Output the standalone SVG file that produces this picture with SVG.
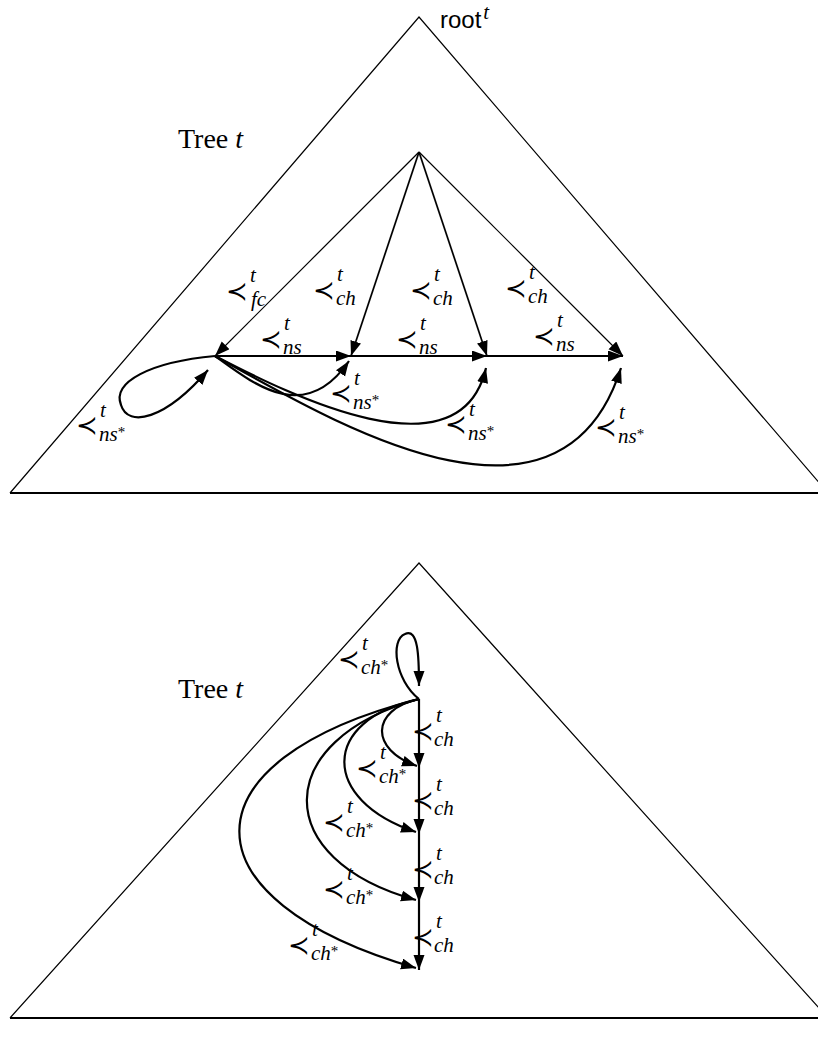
<svg xmlns="http://www.w3.org/2000/svg" width="818" height="1041" viewBox="0 0 818 1041">
<style>
.bg{fill:#fff}
.tri{fill:none;stroke:#000;stroke-width:1.2;stroke-linejoin:miter}
.base{fill:none;stroke:#000;stroke-width:2.2}
.thin{fill:none;stroke:#000;stroke-width:1.2}
.med{fill:none;stroke:#000;stroke-width:1.7}
.thk{fill:none;stroke:#000;stroke-width:2.2}
.op{font-family:"DejaVu Sans",sans-serif;font-style:normal;font-size:26px}
.sc{font-family:"Liberation Serif",serif;font-style:italic;font-size:21px;fill:#000}
.st{font-style:normal;font-size:15px}
.rm{font-family:"Liberation Serif",serif;font-size:28px;fill:#000}
.ss{font-family:"Liberation Sans",sans-serif;font-size:24px;fill:#000}
</style>
<defs>
<marker id="ah" markerUnits="userSpaceOnUse" markerWidth="16" markerHeight="12" refX="15" refY="5.5" orient="auto">
<path d="M0,0 L15,5.5 L0,11 z" fill="#000"/>
</marker>
</defs>
<rect class="bg" x="0" y="0" width="818" height="1041"/>

<g id="tree-top">
<path class="tri" d="M10,493 L419,17 L828,493"/>
<path class="base" d="M10,493 L828,493"/>
<text class="ss" x="440" y="28">root<tspan class="sc" font-size="16" dy="-9" dx="2">t</tspan></text>
<text class="rm" x="178" y="148">Tree <tspan font-style="italic">t</tspan></text>
</g>

<g id="tree-bottom">
<path class="tri" d="M10,1018 L419,563 L828,1018"/>
<path class="base" d="M10,1018 L828,1018"/>
<text class="rm" x="178" y="698">Tree <tspan font-style="italic">t</tspan></text>
</g>

<g id="connectors">
<path class="thin" d="M419,152 L215,356" marker-end="url(#ah)"/>
<path class="med" d="M419,152 L351,356" marker-end="url(#ah)"/>
<path class="med" d="M419,152 L487,356" marker-end="url(#ah)"/>
<path class="thin" d="M419,152 L623,356" marker-end="url(#ah)"/>
<path class="thk" d="M215,356 L351,356" marker-end="url(#ah)"/>
<path class="thk" d="M351,356 L487,356" marker-end="url(#ah)"/>
<path class="thk" d="M487,356 L623,356" marker-end="url(#ah)"/>
<path class="thk" d="M215,356 C255,385 305,425 349,361" marker-end="url(#ah)"/>
<path class="thk" d="M215,356 C290,395 460,480 486,368" marker-end="url(#ah)"/>
<path class="thk" d="M215,356 C330,420 560,560 621,368" marker-end="url(#ah)"/>
<path class="thk" d="M215,356 C150,362 112,382 121,405 C128,428 165,420 208,370" marker-end="url(#ah)"/>
<path class="thk" d="M419,699 L419,768" marker-end="url(#ah)"/>
<path class="thk" d="M419,768 L419,834" marker-end="url(#ah)"/>
<path class="thk" d="M419,834 L419,902" marker-end="url(#ah)"/>
<path class="thk" d="M419,902 L419,970" marker-end="url(#ah)"/>
<path class="thk" d="M419,699 C395,680 390,640 405,634 C418,628 419,655 419,686" marker-end="url(#ah)"/>
<path class="thk" d="M419,699 C370,710 370,750 417,766" marker-end="url(#ah)"/>
<path class="thk" d="M419,699 C320,720 320,800 416,832" marker-end="url(#ah)"/>
<path class="thk" d="M419,699 C270,740 270,860 416,900" marker-end="url(#ah)"/>
<path class="thk" d="M419,699 C180,760 180,900 416,968" marker-end="url(#ah)"/>
</g>

<g id="labels-top">
<text id="l-fc" class="sc" transform="translate(228,291)"><tspan class="op" x="-2" y="9">≺</tspan><tspan x="22" y="-9">t</tspan><tspan x="23" y="15">fc</tspan></text>
<text id="l-ch1" class="sc" transform="translate(315,290)"><tspan class="op" x="-2" y="9">≺</tspan><tspan x="22" y="-9">t</tspan><tspan x="21" y="15">ch</tspan></text>
<text id="l-ch2" class="sc" transform="translate(412,290)"><tspan class="op" x="-2" y="9">≺</tspan><tspan x="22" y="-9">t</tspan><tspan x="21" y="15">ch</tspan></text>
<text id="l-ch3" class="sc" transform="translate(507,288)"><tspan class="op" x="-2" y="9">≺</tspan><tspan x="22" y="-9">t</tspan><tspan x="21" y="15">ch</tspan></text>
<text id="l-ns1" class="sc" transform="translate(262,339)"><tspan class="op" x="-2" y="9">≺</tspan><tspan x="22" y="-9">t</tspan><tspan x="21" y="15">ns</tspan></text>
<text id="l-ns2" class="sc" transform="translate(398,339)"><tspan class="op" x="-2" y="9">≺</tspan><tspan x="22" y="-9">t</tspan><tspan x="21" y="15">ns</tspan></text>
<text id="l-ns3" class="sc" transform="translate(535,336)"><tspan class="op" x="-2" y="9">≺</tspan><tspan x="22" y="-9">t</tspan><tspan x="21" y="15">ns</tspan></text>
<text id="l-nss1" class="sc" transform="translate(332,393)"><tspan class="op" x="-2" y="9">≺</tspan><tspan x="22" y="-8">t</tspan><tspan x="21" y="16">ns</tspan><tspan class="st" dy="-4">*</tspan></text>
<text id="l-nss2" class="sc" transform="translate(447,424)"><tspan class="op" x="-2" y="9">≺</tspan><tspan x="22" y="-8">t</tspan><tspan x="21" y="16">ns</tspan><tspan class="st" dy="-4">*</tspan></text>
<text id="l-nss3" class="sc" transform="translate(597,427)"><tspan class="op" x="-2" y="9">≺</tspan><tspan x="22" y="-8">t</tspan><tspan x="21" y="16">ns</tspan><tspan class="st" dy="-4">*</tspan></text>
<text id="l-nss0" class="sc" transform="translate(78,425)"><tspan class="op" x="-2" y="9">≺</tspan><tspan x="22" y="-8">t</tspan><tspan x="21" y="16">ns</tspan><tspan class="st" dy="-4">*</tspan></text>
</g>

<g id="labels-bottom">
<text id="b-ch1" class="sc" transform="translate(414,731)"><tspan class="op" x="-2" y="9">≺</tspan><tspan x="22" y="-9">t</tspan><tspan x="20" y="15">ch</tspan></text>
<text id="b-ch2" class="sc" transform="translate(414,800)"><tspan class="op" x="-2" y="9">≺</tspan><tspan x="22" y="-9">t</tspan><tspan x="20" y="15">ch</tspan></text>
<text id="b-ch3" class="sc" transform="translate(414,869)"><tspan class="op" x="-2" y="9">≺</tspan><tspan x="22" y="-9">t</tspan><tspan x="20" y="15">ch</tspan></text>
<text id="b-ch4" class="sc" transform="translate(414,937)"><tspan class="op" x="-2" y="9">≺</tspan><tspan x="22" y="-9">t</tspan><tspan x="20" y="15">ch</tspan></text>
<text id="b-chs0" class="sc" transform="translate(340,659)"><tspan class="op" x="-2" y="9">≺</tspan><tspan x="22" y="-9">t</tspan><tspan x="21" y="15">ch</tspan><tspan class="st" dy="-4">*</tspan></text>
<text id="b-chs1" class="sc" transform="translate(358,768)"><tspan class="op" x="-2" y="9">≺</tspan><tspan x="22" y="-9">t</tspan><tspan x="21" y="15">ch</tspan><tspan class="st" dy="-4">*</tspan></text>
<text id="b-chs2" class="sc" transform="translate(325,822)"><tspan class="op" x="-2" y="9">≺</tspan><tspan x="22" y="-9">t</tspan><tspan x="21" y="15">ch</tspan><tspan class="st" dy="-4">*</tspan></text>
<text id="b-chs3" class="sc" transform="translate(325,889)"><tspan class="op" x="-2" y="9">≺</tspan><tspan x="22" y="-9">t</tspan><tspan x="21" y="15">ch</tspan><tspan class="st" dy="-4">*</tspan></text>
<text id="b-chs4" class="sc" transform="translate(290,945)"><tspan class="op" x="-2" y="9">≺</tspan><tspan x="22" y="-9">t</tspan><tspan x="21" y="15">ch</tspan><tspan class="st" dy="-4">*</tspan></text>
</g>
</svg>
